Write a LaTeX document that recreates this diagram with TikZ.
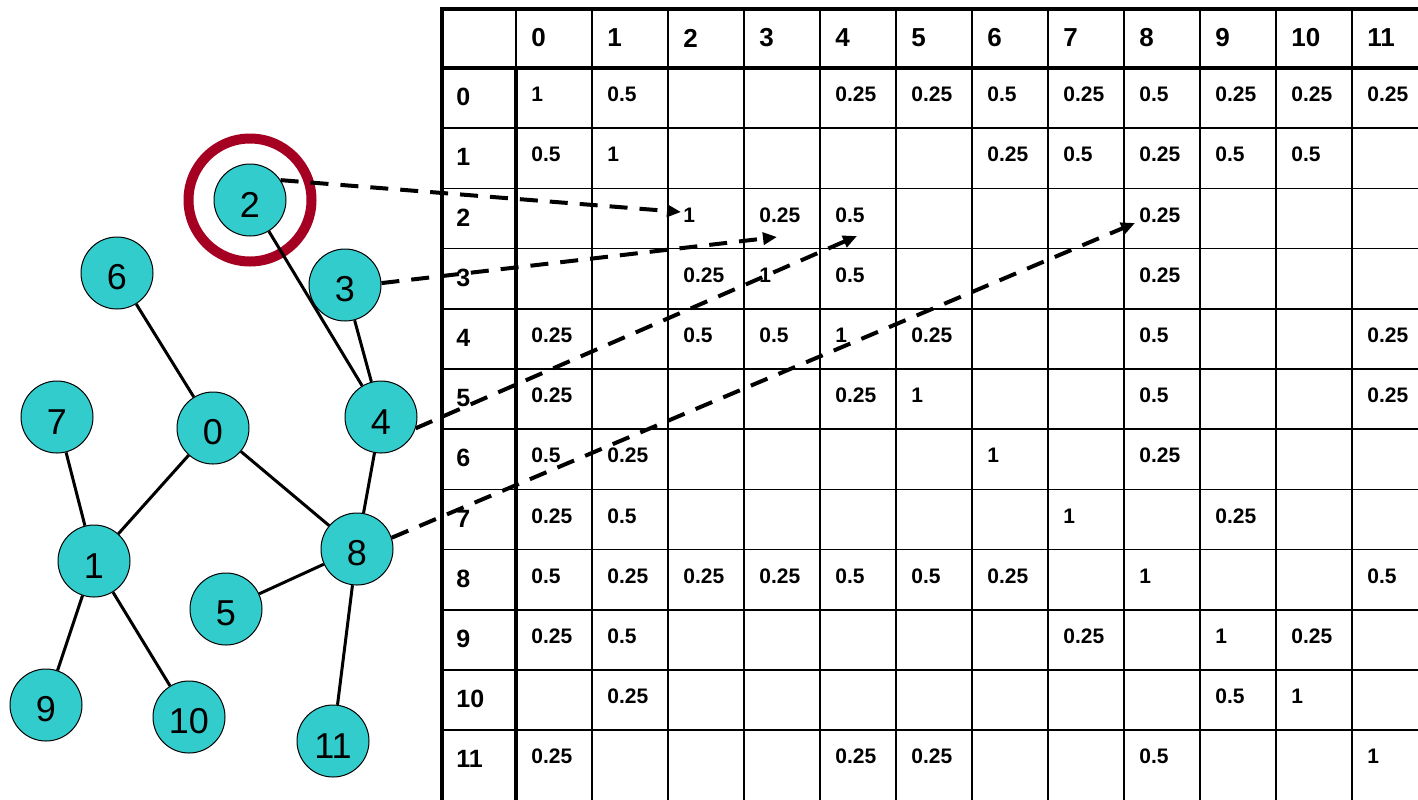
\documentclass[tikz,border=0pt]{standalone}
\usepackage{fontspec}
\setmainfont{Liberation Sans}
\usetikzlibrary{arrows.meta}

\definecolor{nodeteal}{HTML}{33CCCC}
\definecolor{ringred}{HTML}{A50021}

\begin{document}
\begin{tikzpicture}[
  x=0.5pt, y=-0.5pt,
  vtx/.style={circle, draw=black, line width=0.5pt, fill=nodeteal,
              minimum size=36pt, inner sep=0pt, text height=17pt,
              font=\fontsize{18}{18}\selectfont},
  edge/.style={line width=1.5pt},
  link/.style={line width=2pt, dash pattern=on 9pt off 6pt,
               -{Triangle[length=7pt,width=6pt]}},
  gridln/.style={line width=0.8pt},
  frameln/.style={line width=1.8pt},
  hdr/.style={anchor=west, inner sep=0pt, font=\fontsize{13}{14}\selectfont\bfseries},
  val/.style={anchor=west, inner sep=0pt, font=\fontsize{10.5}{11}\selectfont\bfseries},
]

\useasboundingbox (0,0) rectangle (1418,799);

% ===== TABLE: pairwise values =================================================
\def\tx{442}   % left edge of the frame
\def\ty{9}     % top edge of the frame
\def\hx{516}   % right edge of the label column
\def\hy{68}    % bottom edge of the header row
\def\colw{76}
\def\rowh{60.2}

% thin grid lines
\foreach \r in {1,...,11}
  \draw[gridln] (\tx,{\hy+\rowh*\r}) -- (1425,{\hy+\rowh*\r});
\foreach \c in {1,...,11}
  \draw[gridln] ({\hx+\colw*\c},\ty) -- ({\hx+\colw*\c},805);
\draw[gridln] (\hx,\ty) -- (\hx,\hy);

% heavy frame
\draw[frameln] (1425,\ty) -- (\tx,\ty) -- (\tx,805);
\draw[frameln] (\tx,\hy) -- (1425,\hy);
\draw[frameln] (\hx,\hy) -- (\hx,805);

% column and row labels
\foreach \c in {0,...,11}
  \node[hdr] (h\c) at ({\hx+\colw*\c+15},38) {\c};
\foreach \r in {0,...,11}
  \node[hdr, font=\fontsize{12.5}{13}\selectfont\bfseries]
    (r\r) at ({\tx+14},{\hy+\rowh*\r+29}) {\r};

% entries: row/column/value
\foreach \r/\c/\v in {
  0/0/1, 0/1/0.5, 0/4/0.25, 0/5/0.25, 0/6/0.5, 0/7/0.25, 0/8/0.5, 0/9/0.25, 0/10/0.25, 0/11/0.25,
  1/0/0.5, 1/1/1, 1/6/0.25, 1/7/0.5, 1/8/0.25, 1/9/0.5, 1/10/0.5,
  2/2/1, 2/3/0.25, 2/4/0.5, 2/8/0.25,
  3/2/0.25, 3/3/1, 3/4/0.5, 3/8/0.25,
  4/0/0.25, 4/2/0.5, 4/3/0.5, 4/4/1, 4/5/0.25, 4/8/0.5, 4/11/0.25,
  5/0/0.25, 5/4/0.25, 5/5/1, 5/8/0.5, 5/11/0.25,
  6/0/0.5, 6/1/0.25, 6/6/1, 6/8/0.25,
  7/0/0.25, 7/1/0.5, 7/7/1, 7/9/0.25,
  8/0/0.5, 8/1/0.25, 8/2/0.25, 8/3/0.25, 8/4/0.5, 8/5/0.5, 8/6/0.25, 8/8/1, 8/11/0.5,
  9/0/0.25, 9/1/0.5, 9/7/0.25, 9/9/1, 9/10/0.25,
  10/1/0.25, 10/9/0.5, 10/10/1,
  11/0/0.25, 11/4/0.25, 11/5/0.25, 11/8/0.5, 11/11/1}
  \node[val] (v-\r-\c) at ({\hx+\colw*\c+15},{\hy+\rowh*\r+26.5}) {\v};

% ===== GRAPH ===================================================================
\node[vtx] (n0)  at (213,428) {0};
\node[vtx] (n1)  at (94,561)  {1};
\node[vtx] (n2)  at (250,200) {2};
\node[vtx] (n3)  at (345,285) {3};
\node[vtx] (n4)  at (381,417) {4};
\node[vtx] (n5)  at (226,609) {5};
\node[vtx] (n6)  at (117,273) {6};
\node[vtx] (n7)  at (57,417)  {7};
\node[vtx] (n8)  at (357,549) {8};
\node[vtx] (n9)  at (46,705)  {9};
\node[vtx] (n10) at (189,717) {10};
\node[vtx] (n11) at (333,741) {11};

% highlight ring around the chosen vertex
\draw[ringred, line width=5pt] (n2.center) circle (61.5);

% edges
\draw[edge] (n6) -- (n0);
\draw[edge] (n0) -- (n1);
\draw[edge] (n0) -- (n8);
\draw[edge] (n7) -- (n1);
\draw[edge] (n1) -- (n9);
\draw[edge] (n1) -- (n10);
\draw[edge] (n2) -- (n4);
\draw[edge] (n3) -- (n4);
\draw[edge] (n4) -- (n8);
\draw[edge] (n8) -- (n5);
\draw[edge] (n8) -- (n11);

% ===== Links from the vertices into row 2 =====================================
\coordinate (t2) at (681,212);
\coordinate (t3) at (777,237);
\coordinate (t4) at (857,236);
\coordinate (t8) at (1135,223);

\draw[link] (n2.33)  -- (t2);
\draw[link] (n3.3)   -- (t3);
\draw[link] (n4.-18) -- (t4);
\draw[link] (n8.18)  -- (t8);

\end{tikzpicture}
\end{document}
